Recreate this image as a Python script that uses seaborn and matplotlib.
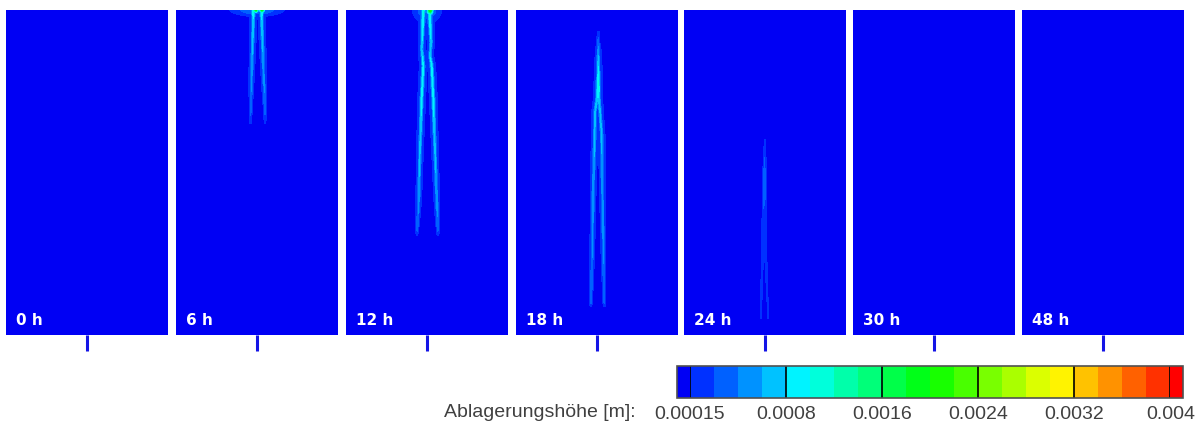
import numpy as np
import matplotlib
matplotlib.use("Agg")
import matplotlib.pyplot as plt
import matplotlib.cm as cm
from matplotlib.colors import ListedColormap, BoundaryNorm, hsv_to_rgb
import seaborn as sns

sns.set_theme(style="white")
plt.rcParams["font.family"] = ["Liberation Sans", "DejaVu Sans"]

# ---------------------------------------------------------------- data
time_labels = ["0 h", "6 h", "12 h", "18 h", "24 h", "30 h", "48 h"]

# contour levels of the deposition height [m]
levels_low = [0.00015, 0.0003125, 0.000475, 0.0006375]
levels_high = [0.0008, 0.001, 0.0012, 0.0014, 0.0016, 0.0018, 0.002, 0.0022,
               0.0024, 0.0026, 0.0028, 0.003, 0.0032, 0.0034, 0.0036, 0.0038, 0.004]
tick_values = [0.00015, 0.0008, 0.0016, 0.0024, 0.0032, 0.004]
tick_labels = ["0.00015", "0.0008", "0.0016", "0.0024", "0.0032", "0.004"]

# deposition streaks: depth below the top edge (0..1), lateral position (0..1),
# peak deposition height along the streak [m]
depth_6h = [0.00, 0.03, 0.17, 0.31, 0.35]
left_6h = [0.477, 0.477, 0.469, 0.461, 0.460]
right_6h = [0.529, 0.529, 0.539, 0.549, 0.550]
peak_6h = [0.0011, 0.0008, 0.0006, 0.0004, 0.0002]

depth_12h = [0.00, 0.10, 0.12, 0.14, 0.172, 0.274, 0.428, 0.58, 0.674, 0.695]
left_12h = [0.477, 0.470, 0.467, 0.472, 0.477, 0.467, 0.457, 0.449, 0.440, 0.438]
right_12h = [0.515, 0.525, 0.522, 0.519, 0.529, 0.539, 0.549, 0.560, 0.566, 0.568]
peak_12h = [0.0011, 0.0008, 0.0007, 0.0008, 0.0009, 0.0009, 0.0007, 0.0006, 0.0004, 0.0002]

depth_18h = [0.064, 0.129, 0.233, 0.274, 0.314, 0.387, 0.54, 0.745, 0.898, 0.914]
left_18h = [0.508, 0.508, 0.508, 0.500, 0.488, 0.486, 0.477, 0.471, 0.463, 0.462]
right_18h = [0.508, 0.508, 0.508, 0.512, 0.519, 0.529, 0.533, 0.539, 0.545, 0.546]
peak_18h = [0.0002, 0.0006, 0.0011, 0.0008, 0.0007, 0.0007, 0.0006, 0.0005, 0.0004, 0.0002]

depth_24h = [0.397, 0.51, 0.622, 0.775, 0.951]
left_24h = [0.500, 0.496, 0.490, 0.483, 0.475]
right_24h = [0.500, 0.496, 0.500, 0.506, 0.520]
peak_24h = [0.00018, 0.00045, 0.0003, 0.00025, 0.00017]

# deposits spreading at the top edge: lateral centre, depth centre,
# lateral spread, depth spread, peak height [m]
spots_6h = [(0.50, 0.0, 0.11, 0.014, 0.00050),
            (0.493, 0.0, 0.012, 0.006, 0.0020),
            (0.531, 0.0, 0.012, 0.006, 0.0020)]
spots_12h = [(0.50, 0.0, 0.06, 0.028, 0.00050),
             (0.519, 0.0, 0.014, 0.010, 0.0022),
             (0.478, 0.0, 0.010, 0.010, 0.0011)]

streaks = {
    "6 h": [(depth_6h, left_6h, peak_6h), (depth_6h, right_6h, peak_6h)],
    "12 h": [(depth_12h, left_12h, peak_12h), (depth_12h, right_12h, peak_12h)],
    "18 h": [(depth_18h, left_18h, peak_18h), (depth_18h, right_18h, peak_18h)],
    "24 h": [(depth_24h, left_24h, peak_24h), (depth_24h, right_24h, peak_24h)],
}
spots = {"6 h": spots_6h, "12 h": spots_12h}

# ---------------------------------------------------------------- grid
NX, NY = 162, 325
CORE_SIGMA = 1.5 / NX      # narrow core of a streak
HALO_SIGMA = 3.2 / NX      # faint fringe around it
HALO_SHARE = 0.45


def deposition_field(label):
    y = (np.arange(NY) + 0.5) / NY
    x = (np.arange(NX) + 0.5) / NX
    X, Y = np.meshgrid(x, y)
    field = np.zeros((NY, NX))
    for depth, pos, peak in streaks.get(label, []):
        inside = (y >= depth[0]) & (y <= depth[-1])
        xc = np.interp(y, depth, pos)[:, None]
        amp = (np.interp(y, depth, peak) * inside)[:, None]
        core = np.exp(-0.5 * ((X - xc) / CORE_SIGMA) ** 2)
        halo = HALO_SHARE * np.exp(-0.5 * ((X - xc) / HALO_SIGMA) ** 2)
        field = np.maximum(field, amp * np.maximum(core, halo))
    for cx, cy, sx, sy, pk in spots.get(label, []):
        field = np.maximum(field, pk * np.exp(-0.5 * (((X - cx) / sx) ** 2 +
                                                       ((Y - cy) / sy) ** 2)))
    return field


# ---------------------------------------------------------------- colours
levels = levels_low + levels_high
n_bands = len(levels) - 1
hues = [240.0 * (1 - (i + 1) / (n_bands + 1)) / 360.0 for i in range(n_bands)]
band_colors = [hsv_to_rgb((h, 1.0, 1.0)) for h in hues]
cmap = ListedColormap(band_colors)
cmap.set_under("#0000f4")
cmap.set_over("#ff0000")
norm = BoundaryNorm(levels, n_bands)

# ---------------------------------------------------------------- figure
W, H = 1204, 427
fig = plt.figure(figsize=(W / 100, H / 100), dpi=100)

panel_left = [6, 176, 346, 516, 684, 853, 1022]
panel_top, panel_w, panel_h = 11, 162, 325

for left, label in zip(panel_left, time_labels):
    ax = fig.add_axes([left / W, 1 - (panel_top + panel_h) / H, panel_w / W, panel_h / H])
    sns.heatmap(deposition_field(label), ax=ax, cmap=cmap, norm=norm, cbar=False,
                xticklabels=False, yticklabels=False, linewidths=0, rasterized=True)
    ax.set_xticks([NX / 2])
    ax.set_xticklabels([""])
    ax.set_yticks([])
    ax.tick_params(axis="x", bottom=True, direction="out", length=11.5, width=2.2,
                   color="#1414e6")
    ax.text(10 / panel_w, 0.047, label, transform=ax.transAxes, ha="left", va="center",
            color="white", fontsize=11, fontweight="bold", family="DejaVu Sans")

# colour bar
cax = fig.add_axes([677 / W, 1 - 399 / H, 506 / W, 32 / H])
cb = fig.colorbar(cm.ScalarMappable(norm=norm, cmap=cmap), cax=cax,
                  orientation="horizontal", extend="both", extendrect=True,
                  extendfrac=0.026, spacing="uniform", ticks=tick_values)
cb.set_ticklabels(tick_labels)
cb.minorticks_off()
cb.ax.tick_params(which="both", length=0, labelsize=14, colors="#404040", pad=5)
cb.outline.set_edgecolor("#505050")
cb.outline.set_linewidth(1.2)
for v in tick_values:
    cb.ax.axvline(v, color="black", lw=1.2)

fig.text(636 / W, 1 - 413 / H, "Ablagerungshöhe [m]:", ha="right", va="center",
         fontsize=14, color="#404040")

fig.savefig("out.png", dpi=100, facecolor="white")
